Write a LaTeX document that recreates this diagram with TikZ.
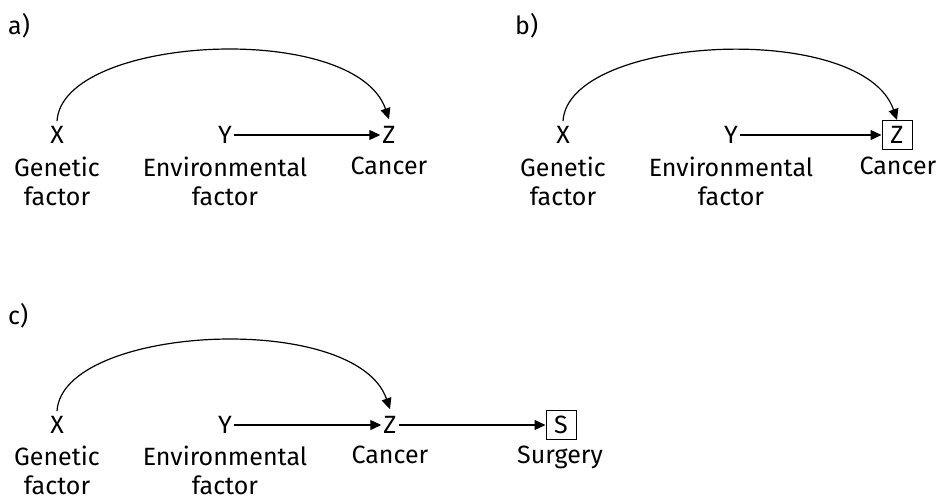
\documentclass[tikz,border=0pt]{standalone}
\usepackage{fontspec}
\setmainfont{Fira Sans}
\usetikzlibrary{arrows.meta}
\begin{document}
\begin{tikzpicture}[x=1pt,y=-1pt,
  txt/.style={font=\fontsize{25}{28.5}\selectfont},
  var/.style={txt, inner sep=2pt},
  boxed/.style={txt, draw, line width=1pt, minimum width=30pt, minimum height=29pt, inner sep=0pt},
  caption/.style={txt, anchor=north, inner sep=0pt, align=center},
  panel/.style={txt, anchor=west, inner sep=0pt},
  edge/.style={line width=1.2pt, -{Triangle[length=11pt,width=10pt]}},
]
\useasboundingbox (0,0) rectangle (940,500);

% ---------- a) ----------
\node[panel] (pa) at (8,26) {a)};
\node[var] (xa) at (57,135) {X};
\node[var] (ya) at (225,135) {Y};
\node[var] (za) at (389,135) {Z};
\node[caption] (gxa) at (57,157) {Genetic\\factor};
\node[caption] (gya) at (225,157) {Environmental\\factor};
\node[caption] (gza) at (389,157) {Cancer};
\draw[edge] (ya) -- (za);
\draw[edge] ([yshift=3pt]xa.north) .. controls (62,35) and (355,20) .. ([yshift=5pt]za.north);

% ---------- b) ----------
\node[panel] (pb) at (515,26) {b)};
\node[var] (xb) at (563,135) {X};
\node[var] (yb) at (731,135) {Y};
\node[boxed] (zb) at (897,135) {Z};
\node[caption] (gxb) at (563,157) {Genetic\\factor};
\node[caption] (gyb) at (731,157) {Environmental\\factor};
\node[caption] (gzb) at (898,157) {Cancer};
\draw[edge] (yb) -- (zb);
\draw[edge] ([yshift=3pt]xb.north) .. controls (568,35) and (863,20) .. (zb.north);

% ---------- c) ----------
\node[panel] (pc) at (8,316) {c)};
\node[var] (xc) at (57,425) {X};
\node[var] (yc) at (225,425) {Y};
\node[var] (zc) at (390,425) {Z};
\node[boxed] (sc) at (561,425) {S};
\node[caption] (gxc) at (57,446) {Genetic\\factor};
\node[caption] (gyc) at (225,446) {Environmental\\factor};
\node[caption] (gzc) at (390,446) {Cancer};
\node[caption] (gsc) at (560,446) {Surgery};
\draw[edge] (yc) -- (zc);
\draw[edge] (zc) -- (sc);
\draw[edge] ([yshift=3pt]xc.north) .. controls (62,325) and (356,310) .. ([yshift=5pt]zc.north);
\end{tikzpicture}
\end{document}
